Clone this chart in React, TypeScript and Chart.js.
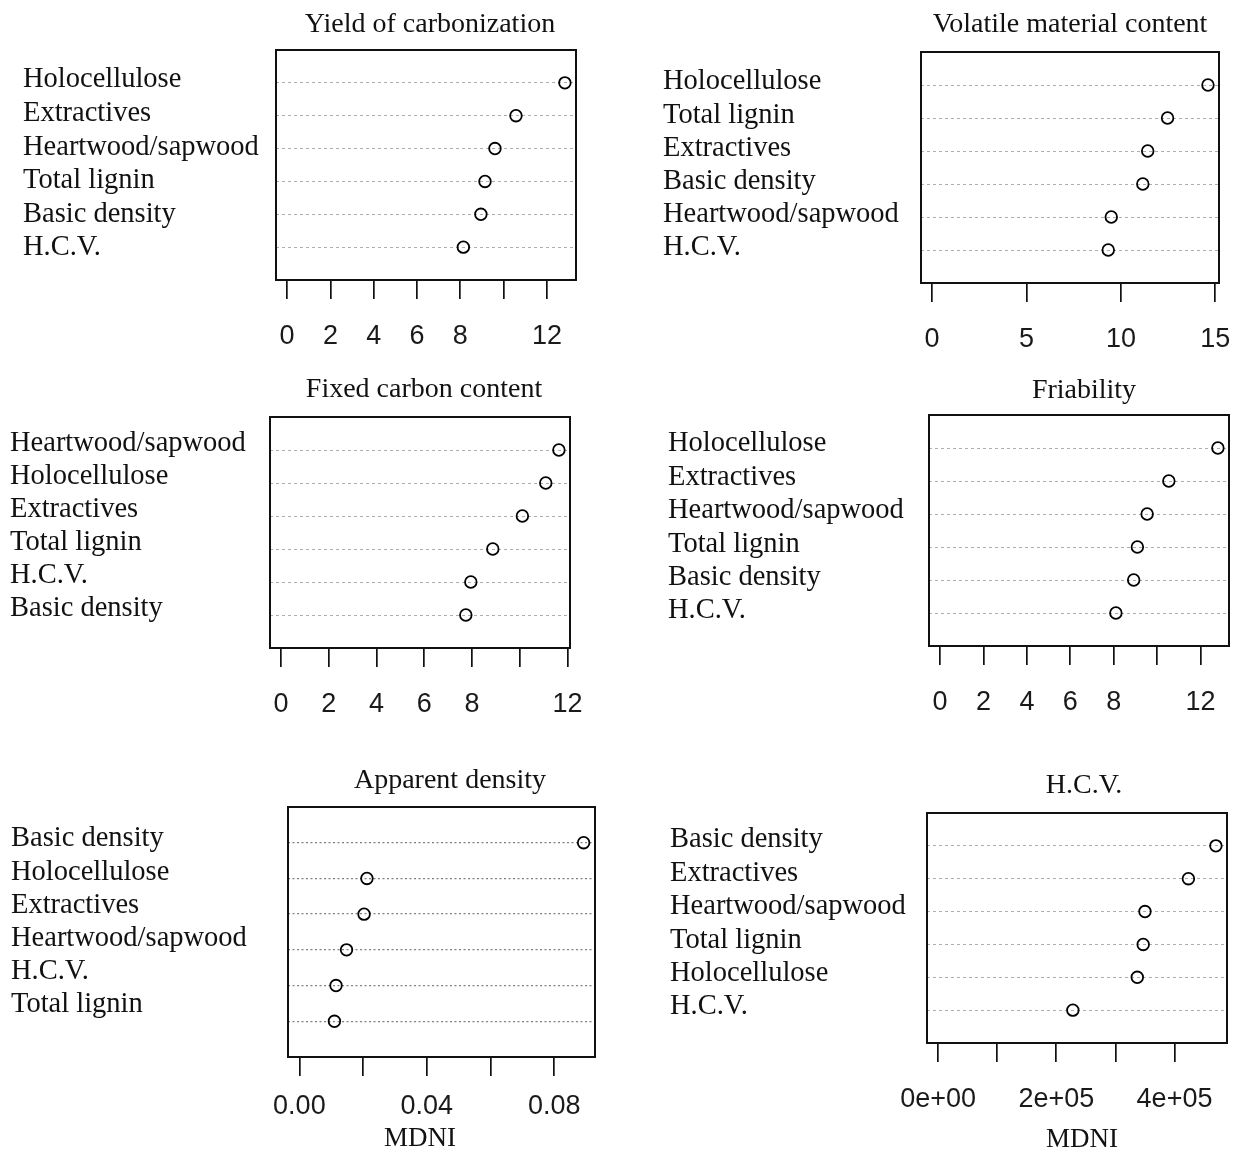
import React, { useEffect, useRef } from "react";
import { Chart, registerables } from "chart.js";

Chart.register(...registerables);

// ---------------- Data ----------------
const yieldTitle = "Yield of carbonization";
const yieldLabels = ["Holocellulose", "Extractives", "Heartwood/sapwood", "Total lignin", "Basic density", "H.C.V."];
const yieldValues = [12.83, 10.57, 9.6, 9.14, 8.95, 8.14];

const volatileTitle = "Volatile material content";
const volatileLabels = ["Holocellulose", "Total lignin", "Extractives", "Basic density", "Heartwood/sapwood", "H.C.V."];
const volatileValues = [14.61, 12.47, 11.42, 11.16, 9.49, 9.33];

const fixedTitle = "Fixed carbon content";
const fixedLabels = ["Heartwood/sapwood", "Holocellulose", "Extractives", "Total lignin", "H.C.V.", "Basic density"];
const fixedValues = [11.64, 11.09, 10.11, 8.87, 7.95, 7.74];

const friabilityTitle = "Friability";
const friabilityLabels = ["Holocellulose", "Extractives", "Heartwood/sapwood", "Total lignin", "Basic density", "H.C.V."];
const friabilityValues = [12.8, 10.54, 9.54, 9.09, 8.92, 8.1];

const apparentTitle = "Apparent density";
const apparentLabels = ["Basic density", "Holocellulose", "Extractives", "Heartwood/sapwood", "H.C.V.", "Total lignin"];
const apparentValues = [0.0892, 0.0212, 0.0203, 0.0148, 0.0115, 0.011];

const hcvTitle = "H.C.V.";
const hcvLabels = ["Basic density", "Extractives", "Heartwood/sapwood", "Total lignin", "Holocellulose", "H.C.V."];
const hcvValues = [470000, 423500, 350000, 347000, 337000, 228000];

const evenTicks = [0, 2, 4, 6, 8, 10, 12];
const evenTickLabels = ["0", "2", "4", "6", "8", "", "12"];
const fiveTicks = [0, 5, 10, 15];
const fiveTickLabels = ["0", "5", "10", "15"];
const densityTicks = [0, 0.02, 0.04, 0.06, 0.08];
const densityTickLabels = ["0.00", "", "0.04", "", "0.08"];
const hcvTicks = [0, 100000, 200000, 300000, 400000];
const hcvTickLabels = ["0e+00", "", "2e+05", "", "4e+05"];

const xAxisTitle = "MDNI";

// ---------------- Layout (page pixels) ----------------
type Geom = {
  cx: number; cy: number; cw: number; ch: number;
  boxL: number; boxR: number; boxT: number; boxB: number;
  labelX: number; labelFirst: number; labelLast: number;
  titleX: number; titleY: number; tickLabelY: number;
  xTitleX?: number; xTitleY?: number;
  gridColor: string; gridDash: number[]; gridWidth: number;
};

type Spec = {
  title: string; labels: string[]; values: number[];
  ticks: number[]; tickLabels: string[]; xTitle?: string; geom: Geom;
};

const SERIF = '"Liberation Serif", "Times New Roman", serif';
const SANS = '"Liberation Sans", Arial, sans-serif';
const LABEL_SIZE = 28.5;
const TITLE_SIZE = 28;
const TICK_SIZE = 27;

const panels: Spec[] = [
  {
    title: yieldTitle, labels: yieldLabels, values: yieldValues, ticks: evenTicks, tickLabels: evenTickLabels,
    geom: { cx: 0, cy: 0, cw: 620, ch: 370, boxL: 276, boxR: 576, boxT: 50, boxB: 280,
      labelX: 23, labelFirst: 80, labelLast: 248, titleX: 430, titleY: 25, tickLabelY: 337,
      gridColor: "#adadad", gridDash: [3, 3], gridWidth: 1 },
  },
  {
    title: volatileTitle, labels: volatileLabels, values: volatileValues, ticks: fiveTicks, tickLabels: fiveTickLabels,
    geom: { cx: 620, cy: 0, cw: 620, ch: 370, boxL: 921, boxR: 1219, boxT: 52, boxB: 283,
      labelX: 663, labelFirst: 82, labelLast: 248, titleX: 1070, titleY: 25, tickLabelY: 340,
      gridColor: "#adadad", gridDash: [3, 3], gridWidth: 1 },
  },
  {
    title: fixedTitle, labels: fixedLabels, values: fixedValues, ticks: evenTicks, tickLabels: evenTickLabels,
    geom: { cx: 0, cy: 370, cw: 620, ch: 380, boxL: 270, boxR: 570, boxT: 417, boxB: 648,
      labelX: 10, labelFirst: 444, labelLast: 609, titleX: 424, titleY: 390, tickLabelY: 705,
      gridColor: "#adadad", gridDash: [3, 3], gridWidth: 1 },
  },
  {
    title: friabilityTitle, labels: friabilityLabels, values: friabilityValues, ticks: evenTicks, tickLabels: evenTickLabels,
    geom: { cx: 620, cy: 370, cw: 620, ch: 380, boxL: 929, boxR: 1229, boxT: 415, boxB: 646,
      labelX: 668, labelFirst: 444, labelLast: 611, titleX: 1084, titleY: 391, tickLabelY: 703,
      gridColor: "#adadad", gridDash: [3, 3], gridWidth: 1 },
  },
  {
    title: apparentTitle, labels: apparentLabels, values: apparentValues, ticks: densityTicks, tickLabels: densityTickLabels,
    xTitle: xAxisTitle,
    geom: { cx: 0, cy: 750, cw: 620, ch: 403, boxL: 288, boxR: 595, boxT: 807, boxB: 1057,
      labelX: 11, labelFirst: 839, labelLast: 1005, titleX: 450, titleY: 781, tickLabelY: 1107,
      xTitleX: 420, xTitleY: 1139,
      gridColor: "#808080", gridDash: [2, 2.5], gridWidth: 1.3 },
  },
  {
    title: hcvTitle, labels: hcvLabels, values: hcvValues, ticks: hcvTicks, tickLabels: hcvTickLabels,
    xTitle: xAxisTitle,
    geom: { cx: 620, cy: 750, cw: 620, ch: 403, boxL: 927, boxR: 1227, boxT: 813, boxB: 1043,
      labelX: 670, labelFirst: 840, labelLast: 1007, titleX: 1084, titleY: 786, tickLabelY: 1100,
      xTitleX: 1082, xTitleY: 1140,
      gridColor: "#adadad", gridDash: [3, 3], gridWidth: 1 },
  },
];

function Panel({ spec }: { spec: Spec }) {
  const ref = useRef<HTMLCanvasElement>(null);
  useEffect(() => {
    const g = spec.geom;
    const n = spec.labels.length;
    const maxV = Math.max(...spec.values);
    const bl = g.boxL - g.cx;
    const br = g.boxR - g.cx;
    const bt = g.boxT - g.cy;
    const bb = g.boxB - g.cy;
    const lx = g.labelX - g.cx;
    const l1 = g.labelFirst - g.cy;
    const lN = g.labelLast - g.cy;
    const s = (lN - l1) / (n - 1);
    const lmin = n - (bb - l1) / s;
    const lmax = lmin + (bb - bt) / s;
    const tickLen = 19;
    const tickPad = g.tickLabelY - g.boxB - tickLen - (TICK_SIZE * 1.2) / 2;

    const overlay = {
      id: "overlay",
      afterDraw(chart: any) {
        const ctx = chart.ctx;
        const a = chart.chartArea;
        ctx.save();
        ctx.strokeStyle = "#111";
        ctx.lineWidth = 2;
        ctx.strokeRect(a.left, a.top, a.right - a.left, a.bottom - a.top);
        ctx.fillStyle = "#111";
        ctx.textAlign = "center";
        ctx.textBaseline = "middle";
        ctx.font = `${TITLE_SIZE}px ${SERIF}`;
        ctx.fillText(spec.title, g.titleX - g.cx, g.titleY - g.cy);
        if (spec.xTitle && g.xTitleX !== undefined && g.xTitleY !== undefined) {
          ctx.font = `27px ${SERIF}`;
          ctx.fillText(spec.xTitle, g.xTitleX - g.cx, g.xTitleY - g.cy);
        }
        ctx.restore();
      },
    };

    const chart = new Chart(ref.current as HTMLCanvasElement, {
      type: "scatter",
      data: {
        datasets: [
          {
            data: spec.values.map((v, i) => ({ x: v, y: n - i })),
            pointRadius: 5.8,
            pointHoverRadius: 5.8,
            pointBorderWidth: 1.8,
            pointBorderColor: "#000",
            pointBackgroundColor: "rgba(255,255,255,0)",
            borderColor: "#000",
            backgroundColor: "rgba(255,255,255,0)",
            clip: false,
          } as any,
        ],
      },
      options: {
        responsive: false,
        animation: false,
        events: [],
        layout: { padding: { left: lx, top: bt, right: g.cw - br, bottom: 0 } },
        plugins: { legend: { display: false }, tooltip: { enabled: false }, title: { display: false } },
        scales: {
          x: {
            type: "linear",
            position: "bottom",
            min: -0.04 * maxV,
            max: 1.04 * maxV,
            afterBuildTicks: (sc: any) => {
              sc.ticks = spec.ticks.map((v) => ({ value: v }));
            },
            ticks: {
              autoSkip: false,
              maxRotation: 0,
              minRotation: 0,
              padding: tickPad,
              color: "#1a1a1a",
              font: { family: SANS, size: TICK_SIZE },
              callback: (_v: any, i: number) => spec.tickLabels[i],
            },
            grid: {
              drawOnChartArea: false,
              drawTicks: true,
              tickLength: tickLen,
              color: "#111",
              tickColor: "#111",
              lineWidth: 1.7,
              tickWidth: 1.7,
            },
            border: { display: false },
            afterFit: (sc: any) => {
              sc.height = g.ch - bb;
              sc.paddingLeft = 0;
              sc.paddingRight = 0;
            },
          } as any,
          y: {
            type: "linear",
            position: "left",
            weight: 0,
            min: 0,
            max: n + 1,
            afterBuildTicks: (sc: any) => {
              sc.ticks = spec.labels.map((_l, i) => ({ value: i + 1 }));
            },
            ticks: { display: false },
            grid: { color: g.gridColor, lineWidth: g.gridWidth, drawTicks: false, tickLength: 0 },
            border: { display: false, dash: g.gridDash },
            afterFit: (sc: any) => {
              sc.width = 0;
              sc.paddingTop = 0;
              sc.paddingBottom = 0;
            },
          } as any,
          yl: {
            type: "linear",
            position: "left",
            weight: 1,
            min: lmin,
            max: lmax,
            afterBuildTicks: (sc: any) => {
              sc.ticks = spec.labels.map((_l, i) => ({ value: i + 1 }));
            },
            ticks: {
              autoSkip: false,
              crossAlign: "far",
              color: "#111",
              font: { family: SERIF, size: LABEL_SIZE },
              callback: (v: any) => spec.labels[n - Math.round(Number(v))],
            },
            grid: { display: false, drawTicks: false },
            border: { display: false },
            afterFit: (sc: any) => {
              sc.width = bl - lx;
              sc.paddingTop = 0;
              sc.paddingBottom = 0;
            },
          } as any,
        },
      },
      plugins: [overlay],
    });
    return () => chart.destroy();
  }, [spec]);

  const g = spec.geom;
  return (
    <canvas
      ref={ref}
      width={g.cw}
      height={g.ch}
      style={{ position: "absolute", left: g.cx, top: g.cy, width: g.cw, height: g.ch }}
    />
  );
}

export default function App() {
  return (
    <div style={{ position: "absolute", left: 0, top: 0, width: 1240, height: 1153, background: "#fff", overflow: "hidden" }}>
      {panels.map((p, i) => (
        <Panel key={i} spec={p} />
      ))}
    </div>
  );
}
